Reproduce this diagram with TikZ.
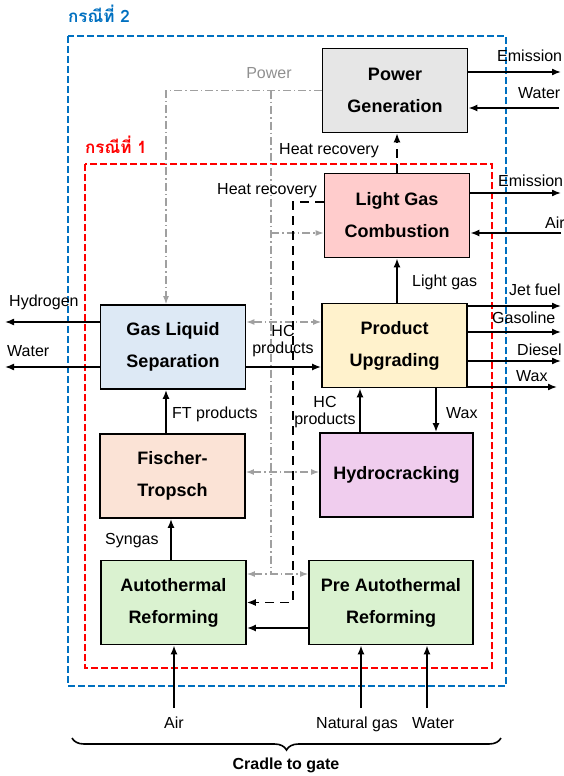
\documentclass[tikz,border=0pt]{standalone}
\usepackage{fontspec}
\setmainfont{Liberation Sans}
\newfontfamily\thaifont[Script=Thai]{Loma}
\usetikzlibrary{arrows.meta,decorations.pathreplacing}

\definecolor{caseblue}{HTML}{0070C0}
\definecolor{casered}{HTML}{FF0000}
\definecolor{powerfill}{HTML}{E6E6E6}
\definecolor{combfill}{HTML}{FFCCCC}
\definecolor{sepfill}{HTML}{DDE9F5}
\definecolor{upgfill}{HTML}{FFF2CC}
\definecolor{ftfill}{HTML}{FBE3D6}
\definecolor{crackfill}{HTML}{F0CDEE}
\definecolor{reffill}{HTML}{DAF2D0}
\definecolor{elecgray}{HTML}{A0A0A0}

\tikzset{
    unit/.style={draw, line width=1.8pt, minimum width=145pt, minimum height=84pt,
        align=center, font=\fontsize{18}{32}\selectfont\bfseries},
    flow/.style={line width=1.6pt, -{Latex[length=9pt,width=7pt]}},
    heat/.style={line width=1.4pt, dash pattern=on 9pt off 6pt, -{Latex[length=9pt,width=7pt]}},
    elec/.style={elecgray, line width=1.2pt, dash pattern=on 8pt off 3pt on 1.5pt off 3pt},
    elecin/.style={elec, -{Latex[length=8pt,width=6pt]}},
    elecboth/.style={elec, {Latex[length=8pt,width=6pt]}-{Latex[length=8pt,width=6pt]}},
    tag/.style={font=\fontsize{16}{17}\selectfont, inner sep=0pt},
    casebox/.style={line width=1.6pt, dash pattern=on 7pt off 3pt},
}

\begin{document}
\begin{tikzpicture}[x=1pt, y=-1pt]
    \useasboundingbox (0,0) rectangle (564,776);

    % system boundaries
    \draw[casebox, caseblue] (68,36) rectangle (506,686);
    \draw[casebox, casered] (85,164) rectangle (492,668);
    \node[anchor=base west, inner sep=0pt, text=caseblue,
        font=\thaifont\bfseries\fontsize{17}{20}\selectfont] (case2) at (68,23) {กรณีที่ 2};
    \node[anchor=base west, inner sep=0pt, text=casered,
        font=\thaifont\bfseries\fontsize{17}{20}\selectfont] (case1) at (85,153) {กรณีที่ 1};

    % process units
    \node[unit, fill=powerfill] (power) at (395,90.5) {Power\\Generation};
    \node[unit, fill=combfill] (comb) at (397,215.5) {Light Gas\\Combustion};
    \node[unit, fill=sepfill] (sep) at (173,347) {Gas Liquid\\Separation};
    \node[unit, fill=upgfill] (upg) at (394.5,345.5) {Product\\Upgrading};
    \node[unit, fill=ftfill] (ft) at (172.5,476) {Fischer-\\Tropsch};
    \node[unit, fill=crackfill, minimum width=153pt] (crack) at (396.5,475) {Hydrocracking};
    \node[unit, fill=reffill] (atr) at (173.5,602.5) {Autothermal\\Reforming};
    \node[unit, fill=reffill, minimum width=164pt] (preatr) at (391,602.5) {Pre Autothermal\\Reforming};

    % loose ends
    \coordinate (emisA) at (561,72);
    \coordinate (waterA) at (559,108);
    \coordinate (emisB) at (561,193);
    \coordinate (airA) at (561,233);
    \coordinate (jet) at (561,306);
    \coordinate (gasol) at (561,332);
    \coordinate (dsl) at (561,361);
    \coordinate (waxout) at (557,387);
    \coordinate (hyd) at (5,322);
    \coordinate (waterB) at (5,367);
    \coordinate (airin) at (174,708);
    \coordinate (ngin) at (361,708);
    \coordinate (wtin) at (427,708);

    % power distribution
    \coordinate (tap) at (271,90.5);
    \coordinate (drop) at (271,574);
    \coordinate (combin) at ([yshift=-17.5pt]comb.west);
    \coordinate (hcx) at (271,322);
    \coordinate (ftx) at (271,472);
    \draw[elecin] (power.west) -| ([xshift=-7pt]sep.north);
    \draw[elec] (tap) -- (drop);
    \draw[elecin] (tap |- combin) -- (combin);
    \draw[elecboth] (hcx -| sep.east) -- (hcx -| upg.west);
    \draw[elecboth] (ftx -| ft.east) -- (ftx -| crack.west);
    \draw[elecboth] (drop -| atr.east) -- (drop -| preatr.west);
    \node[tag, anchor=base, text=elecgray!90!black] (pwrlbl) at (269,78) {Power};

    % heat recovery
    \coordinate (hrcorner) at (293,602.5);
    \draw[heat] ([yshift=13.5pt]comb.west) -| (hrcorner) -- (atr.east);
    \draw[heat] (comb.north) -- (comb.north |- power.south);
    \node[tag, anchor=base] (hrA) at (329,154) {Heat recovery};
    \node[tag, anchor=base] (hrB) at (267,194) {Heat recovery};

    % main flows
    \coordinate (sepout) at ([yshift=-20pt]sep.east);
    \draw[flow] (sepout) -- (sepout -| upg.west);
    \draw[flow] (upg.north -| comb.south) -- (comb.south);
    \draw[flow] ([xshift=-36.5pt]crack.north) -- ([xshift=-34.5pt]upg.south);
    \draw[flow] ([xshift=41.5pt]upg.south) -- ([xshift=39.5pt]crack.north);
    \draw[flow] ([xshift=-6.5pt]ft.north) -- ([xshift=-7pt]sep.south);
    \draw[flow] ([xshift=-2.5pt]atr.north) -- ([xshift=-1.5pt]ft.south);
    \draw[flow] ([yshift=-25.5pt]preatr.west) -- ([yshift=-25.5pt]atr.east);

    % outputs and inputs
    \draw[flow] (power.east |- emisA) -- (emisA);
    \draw[flow] (waterA) -- (power.east |- waterA);
    \draw[flow] (comb.east |- emisB) -- (emisB);
    \draw[flow] (airA) -- (comb.east |- airA);
    \draw[flow] (upg.east |- jet) -- (jet);
    \draw[flow] (upg.east |- gasol) -- (gasol);
    \draw[flow] (upg.east |- dsl) -- (dsl);
    \draw[flow] (upg.east |- waxout) -- (waxout);
    \draw[flow] (sep.west |- hyd) -- (hyd);
    \draw[flow] (sep.west |- waterB) -- (waterB);
    \draw[flow] (airin) -- (airin |- atr.south);
    \draw[flow] (ngin) -- (ngin |- preatr.south);
    \draw[flow] (wtin) -- (wtin |- preatr.south);

    % stream labels
    \node[tag, anchor=base west] (lblEmisA) at (497,62) {Emission};
    \node[tag, anchor=base west] (lblWaterA) at (518,99) {Water};
    \node[tag, anchor=base west] (lblEmisB) at (498,186) {Emission};
    \node[tag, anchor=base west] (lblAirA) at (545,228) {Air};
    \node[tag, anchor=base west] (lblLight) at (412,286) {Light gas};
    \node[tag, anchor=base west] (lblJet) at (509,295) {Jet fuel};
    \node[tag, anchor=base west] (lblGasol) at (492,323) {Gasoline};
    \node[tag, anchor=base west] (lblDsl) at (517,355) {Diesel};
    \node[tag, anchor=base west] (lblWaxA) at (516,381) {Wax};
    \node[tag, anchor=base west] (lblHyd) at (9,306) {Hydrogen};
    \node[tag, anchor=base west] (lblWaterB) at (7,356) {Water};
    \node[tag, align=center] (lblHCA) at (283,341) {HC\\products};
    \node[tag, align=center] (lblHCB) at (325,412) {HC\\products};
    \node[tag, anchor=base west] (lblWaxB) at (446,418) {Wax};
    \node[tag, anchor=base west] (lblFT) at (172,418) {FT products};
    \node[tag, anchor=base west] (lblSyn) at (105,544) {Syngas};
    \node[tag, anchor=base] (lblAir) at (174,728) {Air};
    \node[tag, anchor=base west] (lblNG) at (316,728) {Natural gas};
    \node[tag, anchor=base west] (lblWt) at (412,728) {Water};

    % scope of the study
    \draw[line width=1.6pt, decorate, decoration={brace, amplitude=12pt, mirror}]
        (72,738) -- (501,738);
    \node[tag, anchor=base, font=\fontsize{16}{17}\selectfont\bfseries] (scope) at (286,769) {Cradle to gate};
\end{tikzpicture}
\end{document}
